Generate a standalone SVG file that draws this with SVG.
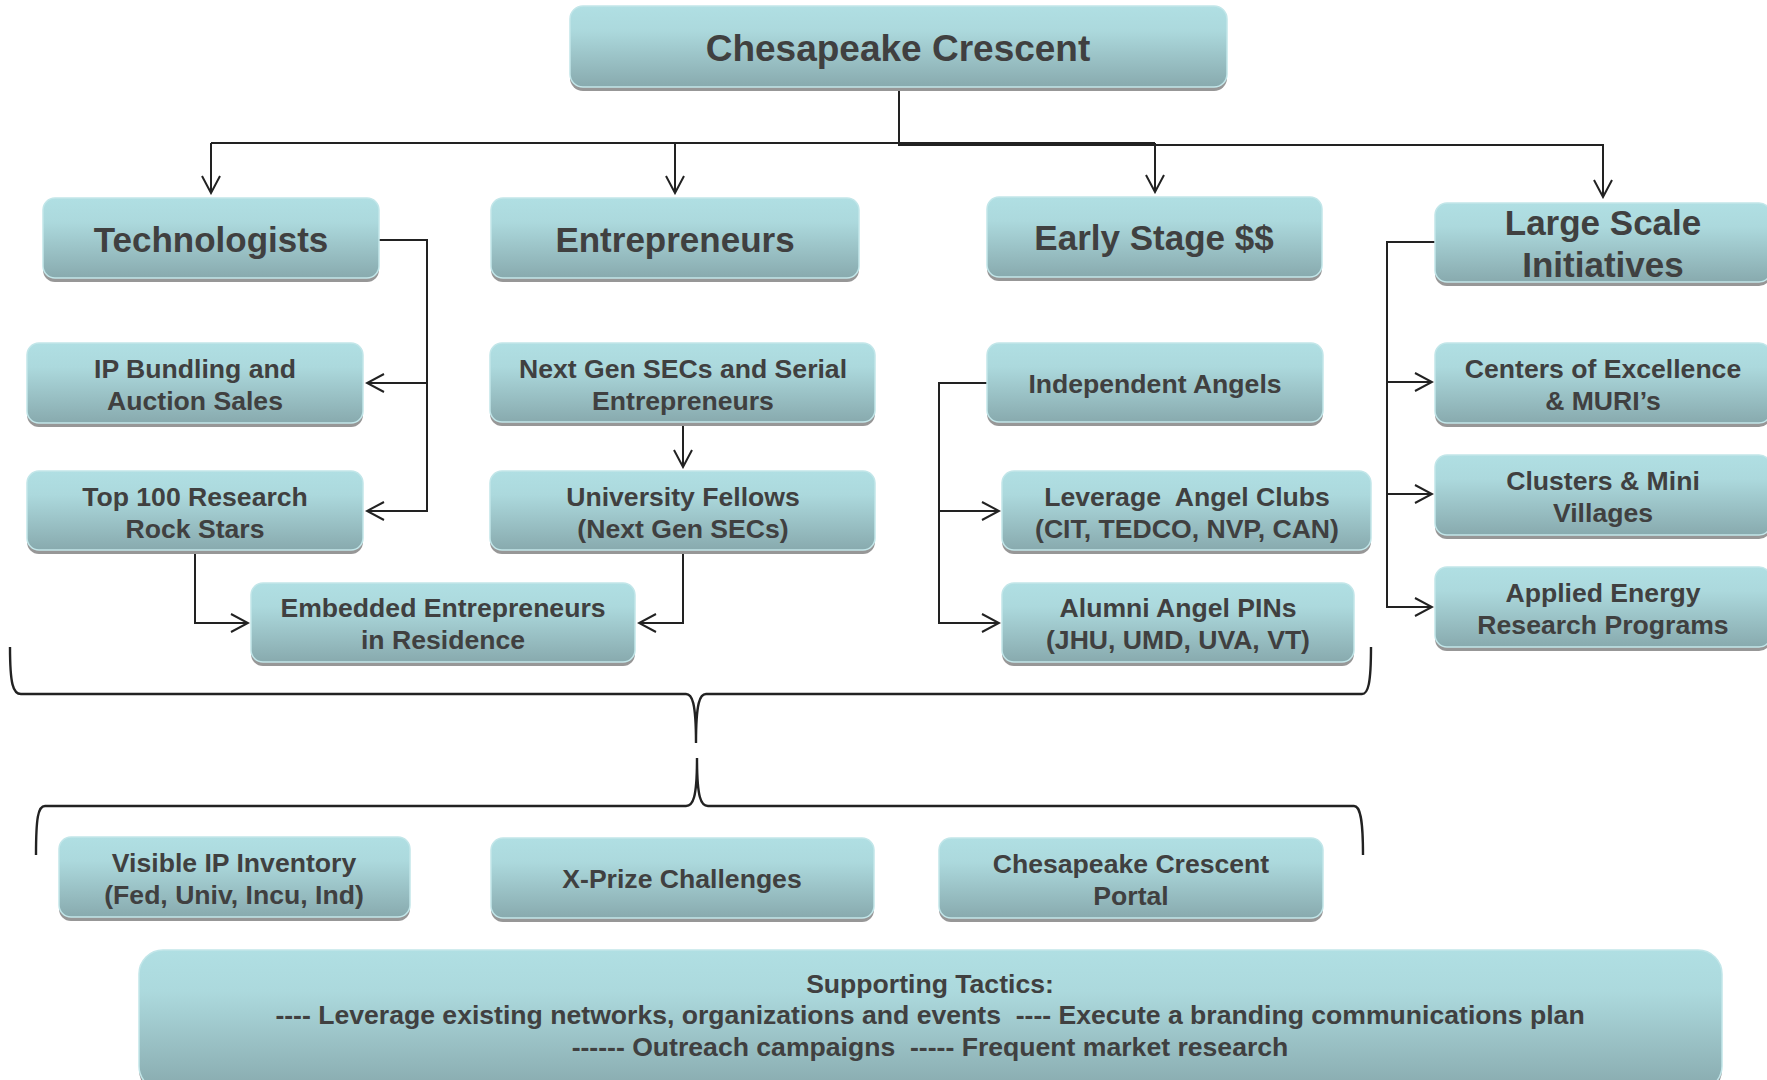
<svg xmlns="http://www.w3.org/2000/svg" width="1767" height="1080" viewBox="0 0 1767 1080">
<style>
.sh{fill:#979797;}
.bx{fill:url(#g);stroke:#c2e6e9;stroke-width:1.5;}
text{font-family:"Liberation Sans",Arial,sans-serif;font-weight:bold;fill:#404040;text-anchor:middle;white-space:pre;}
.t0{font-size:37px;}
.t1{font-size:35px;}
.t2{font-size:26.6px;}
.c{fill:none;stroke:#222;stroke-width:2;}
.a{marker-end:url(#ah);}
.br{fill:none;stroke:#222;stroke-width:2.4;}
</style>
<defs>
<linearGradient id="g" x1="0" y1="0" x2="0" y2="1">
<stop offset="0" stop-color="#b0dfe3"/>
<stop offset="0.3" stop-color="#acd9dd"/>
<stop offset="1" stop-color="#88aaae"/>
</linearGradient>
<marker id="ah" viewBox="-20 -12 22 24" refX="0" refY="0" markerWidth="22" markerHeight="24" markerUnits="userSpaceOnUse" orient="auto">
<path d="M-17,-9 L0,0 L-17,9" fill="none" stroke="#222" stroke-width="2"/>
</marker>
</defs>
<rect width="1767" height="1080" fill="#fff"/>

<g id="connectors">
<path class="c a" d="M211,143 V193"/>
<path class="c" d="M211,143 H1155"/>
<path class="c a" d="M675,143 V193"/>
<path class="c a" d="M1155,143 V192"/>
<path class="c a" d="M899,87 V145 H1603 V197"/>
<path class="c a" d="M379,240 H427 V511 H367"/>
<path class="c a" d="M427,383 H367"/>
<path class="c a" d="M195,550 V623 H248"/>
<path class="c a" d="M683,422 V467"/>
<path class="c a" d="M683,550 V623 H639"/>
<path class="c a" d="M987,383 H939 V623 H999"/>
<path class="c a" d="M939,511 H999"/>
<path class="c a" d="M1435,242 H1387 V607 H1432"/>
<path class="c a" d="M1387,382 H1432"/>
<path class="c a" d="M1387,494 H1432"/>
<path class="br" d="M10,647 C10,684 13,694 21,694 L686,694 C692,694 696,702 696,743 C696,702 700,694 706,694 L1362,694 C1368,694 1371,684 1371,647"/>
<path class="br" d="M36,855 C36,818 38,806 45,806 L686,806 C693,806 697,798 697,758 C697,798 701,806 708,806 L1354,806 C1360,806 1363,818 1363,855"/>
</g>

<g id="n-title"><rect class="sh" x="570" y="10" width="657" height="81" rx="13"/><rect class="bx" x="570" y="6" width="657" height="81" rx="13"/><text class="t0" x="898" y="61">Chesapeake Crescent</text></g>

<g id="n-tech"><rect class="sh" x="43" y="202" width="336" height="80" rx="12"/><rect class="bx" x="43" y="198" width="336" height="80" rx="12"/><text class="t1" x="211" y="252">Technologists</text></g>
<g id="n-entr"><rect class="sh" x="491" y="202" width="368" height="80" rx="12"/><rect class="bx" x="491" y="198" width="368" height="80" rx="12"/><text class="t1" x="675" y="252">Entrepreneurs</text></g>
<g id="n-early"><rect class="sh" x="987" y="201" width="335" height="80" rx="12"/><rect class="bx" x="987" y="197" width="335" height="80" rx="12"/><text class="t1" x="1154" y="250">Early Stage $$</text></g>
<g id="n-large"><rect class="sh" x="1435" y="207" width="336" height="79" rx="12"/><rect class="bx" x="1435" y="203" width="336" height="79" rx="12"/><text class="t1" x="1603" y="235">Large Scale</text><text class="t1" x="1603" y="277">Initiatives</text></g>

<g id="n-ip"><rect class="sh" x="27" y="347" width="336" height="80" rx="12"/><rect class="bx" x="27" y="343" width="336" height="80" rx="12"/><text class="t2" x="195" y="378">IP Bundling and</text><text class="t2" x="195" y="410">Auction Sales</text></g>
<g id="n-top100"><rect class="sh" x="27" y="475" width="336" height="79" rx="12"/><rect class="bx" x="27" y="471" width="336" height="79" rx="12"/><text class="t2" x="195" y="506">Top 100 Research</text><text class="t2" x="195" y="538">Rock Stars</text></g>
<g id="n-embedded"><rect class="sh" x="251" y="587" width="384" height="79" rx="12"/><rect class="bx" x="251" y="583" width="384" height="79" rx="12"/><text class="t2" x="443" y="617">Embedded Entrepreneurs</text><text class="t2" x="443" y="649">in Residence</text></g>

<g id="n-nextgen"><rect class="sh" x="490" y="347" width="385" height="79" rx="12"/><rect class="bx" x="490" y="343" width="385" height="79" rx="12"/><text class="t2" x="683" y="378">Next Gen SECs and Serial</text><text class="t2" x="683" y="410">Entrepreneurs</text></g>
<g id="n-univ"><rect class="sh" x="490" y="475" width="385" height="79" rx="12"/><rect class="bx" x="490" y="471" width="385" height="79" rx="12"/><text class="t2" x="683" y="506">University Fellows</text><text class="t2" x="683" y="538">(Next Gen SECs)</text></g>

<g id="n-indep"><rect class="sh" x="987" y="347" width="336" height="79" rx="12"/><rect class="bx" x="987" y="343" width="336" height="79" rx="12"/><text class="t2" x="1155" y="393">Independent Angels</text></g>
<g id="n-leverage"><rect class="sh" x="1002" y="475" width="369" height="79" rx="12"/><rect class="bx" x="1002" y="471" width="369" height="79" rx="12"/><text class="t2" x="1187" y="506" xml:space="preserve">Leverage  Angel Clubs</text><text class="t2" x="1187" y="538">(CIT, TEDCO, NVP, CAN)</text></g>
<g id="n-alumni"><rect class="sh" x="1002" y="587" width="352" height="79" rx="12"/><rect class="bx" x="1002" y="583" width="352" height="79" rx="12"/><text class="t2" x="1178" y="617">Alumni Angel PINs</text><text class="t2" x="1178" y="649">(JHU, UMD, UVA, VT)</text></g>

<g id="n-centers"><rect class="sh" x="1435" y="347" width="336" height="80" rx="12"/><rect class="bx" x="1435" y="343" width="336" height="80" rx="12"/><text class="t2" x="1603" y="378">Centers of Excellence</text><text class="t2" x="1603" y="410">&amp; MURI’s</text></g>
<g id="n-clusters"><rect class="sh" x="1435" y="459" width="336" height="80" rx="12"/><rect class="bx" x="1435" y="455" width="336" height="80" rx="12"/><text class="t2" x="1603" y="490">Clusters &amp; Mini</text><text class="t2" x="1603" y="522">Villages</text></g>
<g id="n-applied"><rect class="sh" x="1435" y="571" width="336" height="80" rx="12"/><rect class="bx" x="1435" y="567" width="336" height="80" rx="12"/><text class="t2" x="1603" y="602">Applied Energy</text><text class="t2" x="1603" y="634">Research Programs</text></g>

<g id="n-visible"><rect class="sh" x="59" y="841" width="351" height="80" rx="12"/><rect class="bx" x="59" y="837" width="351" height="80" rx="12"/><text class="t2" x="234" y="872">Visible IP Inventory</text><text class="t2" x="234" y="904">(Fed, Univ, Incu, Ind)</text></g>
<g id="n-xprize"><rect class="sh" x="491" y="842" width="383" height="80" rx="12"/><rect class="bx" x="491" y="838" width="383" height="80" rx="12"/><text class="t2" x="682" y="888">X-Prize Challenges</text></g>
<g id="n-portal"><rect class="sh" x="939" y="842" width="384" height="80" rx="12"/><rect class="bx" x="939" y="838" width="384" height="80" rx="12"/><text class="t2" x="1131" y="873">Chesapeake Crescent</text><text class="t2" x="1131" y="905">Portal</text></g>

<g id="n-tactics"><rect class="sh" x="139" y="954" width="1583" height="140" rx="24"/><rect class="bx" x="139" y="950" width="1583" height="140" rx="24"/><text class="t2" x="930" y="993">Supporting Tactics:</text><text class="t2" x="930" y="1024" xml:space="preserve">---- Leverage existing networks, organizations and events  ---- Execute a branding communications plan</text><text class="t2" x="930" y="1056" xml:space="preserve">------ Outreach campaigns  ----- Frequent market research</text></g>
</svg>
